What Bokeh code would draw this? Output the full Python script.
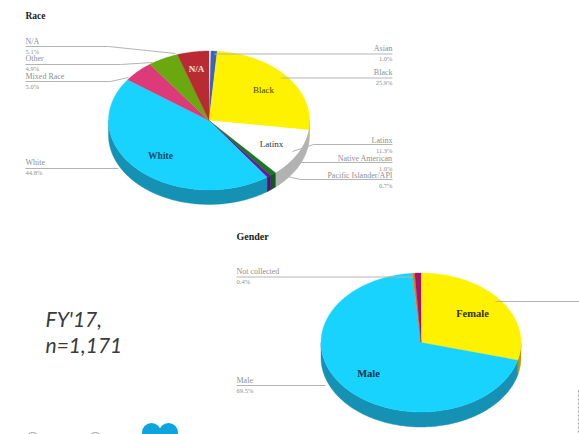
import math
from bokeh.plotting import figure
from bokeh.models import Range1d
from bokeh.core.properties import value
from bokeh.embed import file_html
from bokeh.resources import INLINE

# ---- data ----
race_categories = ["Asian", "Black", "Latinx", "Native American", "Pacific Islander/API",
                   "White", "Mixed Race", "Other", "N/A"]
race_values = [1.0, 25.9, 11.3, 1.0, 0.7, 44.8, 5.0, 4.9, 5.1]
race_value_labels = ["1.0%", "25.9%", "11.3%", "1.0%", "0.7%", "44.8%", "5.0%", "4.9%", "5.1%"]
gender_categories = ["Female", "Male", "Not collected", "Other"]
gender_values = [29.1, 69.5, 0.4, 1.0]
gender_value_labels = ["", "69.5%", "0.4%", ""]
note_lines = ["FY'17,", "n=1,171"]

# ---- styles ----
race_top = ["#3b64b5", "#fff200", "#ffffff", "#177a22", "#6a1a9c", "#19d3ff", "#dc3a78", "#69a80f", "#b92b32"]
race_side = ["#2c4a86", "#c4ba10", "#b2b2b2", "#0f5a18", "#4d1273", "#1592b3", "#a02a58", "#4e7d0b", "#8a2025"]
gender_top = ["#fff200", "#19d3ff", "#e07b20", "#a3156b"]
gender_side = ["#b59a12", "#1592b3", "#a85c18", "#7a1050"]
SERIF = value("Liberation Serif")
GREY = "#8f8f8f"
LINE = "#b4b4b4"

p = figure(width=579, height=434, x_range=Range1d(0, 579), y_range=Range1d(434, 0),
           output_backend="svg", toolbar_location=None, min_border=0,
           x_axis_type=None, y_axis_type=None, outline_line_color=None)
p.grid.visible = False
p.background_fill_color = "#ffffff"
p.border_fill_color = "#ffffff"


def pt(cx, cy, rx, ry, deg, dy=0.0):
    a = math.radians(deg)
    return cx + rx * math.sin(a), cy - ry * math.cos(a) + dy


def pie(vals, tops, sides, cx, cy, rx, ry, depth):
    total = 100.0
    spans, c = [], 0.0
    for v in vals:
        spans.append((c / total * 360, (c + v) / total * 360))
        c += v
    if spans[-1][1] < 360:
        d = 360 - spans[-1][1]
        spans = [(a + d, b + d) for a, b in spans]
    for (a, b), col in zip(spans, sides):
        lo, hi = max(a, 90), min(b, 270)
        if hi <= lo:
            continue
        n = max(2, int(hi - lo) + 1)
        angs = [lo + (hi - lo) * i / n for i in range(n + 1)]
        up = [pt(cx, cy, rx, ry, t) for t in angs]
        dn = [pt(cx, cy, rx, ry, t, depth) for t in reversed(angs)]
        xs = [q[0] for q in up + dn]
        ys = [q[1] for q in up + dn]
        p.patch(xs, ys, fill_color=col, line_color=col, line_width=0.4)
    for (a, b), col in zip(spans, tops):
        n = max(2, int(b - a) + 1)
        arc = [pt(cx, cy, rx, ry, a + (b - a) * i / n) for i in range(n + 1)]
        xs = [cx] + [q[0] for q in arc]
        ys = [cy] + [q[1] for q in arc]
        p.patch(xs, ys, fill_color=col, line_color=col, line_width=0.3)


def txt(x, y, s, size, color=GREY, align="left", style="normal", font=SERIF):
    p.text([x], [y], text=[s], text_font=font, text_font_size=f"{size}px",
           text_color=color, text_align=align, text_baseline="middle", text_font_style=style)


def leader(xs, ys):
    p.line(xs, ys, line_color=LINE, line_width=1)


pie(race_values, race_top, race_side, 208.5, 120, 100.5, 69.5, 14.5)
pie(gender_values, gender_top, gender_side, 420.5, 342, 100, 69.5, 15)

# ---- race labels ----
txt(25, 15, "Race", 9.5, "#222222", style="bold")
left = [(8, 41, [25, 108, 175], [46, 46, 53]),
        (7, 58, [25, 120, 152], [64, 64, 62]),
        (6, 76, [25, 110, 128], [81, 81, 77]),
        (5, 162, [25, 118], [168, 168])]
for i, y, lx, ly in left:
    leader(lx, ly)
    txt(25, y, race_categories[i], 8)
    txt(25, y + 10, race_value_labels[i], 6.5)
right = [(0, 48, [214, 392], [53.5, 53.5]),
         (1, 72, [281, 392], [77.5, 77.5]),
         (2, 139.5, [292, 313, 392], [151, 144, 144]),
         (3, 158, [290, 301, 392], [170, 162, 162]),
         (4, 174.5, [283, 300, 392], [175, 179, 179])]
for i, y, lx, ly in right:
    leader(lx, ly)
    txt(392, y, race_categories[i], 8, align="right")
    txt(392, y + 10, race_value_labels[i], 6.5, align="right")

txt(263, 89, race_categories[1], 9, "#4a4400", "center")
txt(271, 143, race_categories[2], 9, "#333333", "center")
txt(160, 155, race_categories[5], 9.5, "#0a4a66", "center", style="bold")
txt(196, 68, race_categories[8], 9, "#ffe6e6", "center", style="bold")

# ---- gender labels ----
txt(236, 236, "Gender", 10, "#222222", style="bold")
leader([236, 412], [276.5, 276.5])
txt(236, 271, gender_categories[2], 8)
txt(236, 281, gender_value_labels[2], 6.5)
leader([236, 325], [385, 385])
txt(236, 380, gender_categories[1], 8)
txt(236, 390, gender_value_labels[1], 6.5)
leader([495, 579], [301, 301])
txt(472, 313, gender_categories[0], 10.5, "#332e00", "center", style="bold")
txt(368, 373, gender_categories[1], 10.5, "#04304a", "center", style="bold")

# ---- note ----
for s, y in zip(note_lines, [318, 344]):
    txt(45, y, s, 21, "#3a3a3a", style="italic", font=value("Lato"))

# ---- page furniture cropped at the bottom ----
p.circle([151, 168], [432, 432], radius=9.5, fill_color="#0ea5df", line_color=None)
p.circle([32, 95], [438, 438], radius=6, fill_color=None, line_color="#9a9a9a", line_width=1)
p.line([578, 578], [390, 434], line_color="#9a9a9a", line_width=1, line_dash="2 2")

open("out.html", "w").write(file_html(p, INLINE))
